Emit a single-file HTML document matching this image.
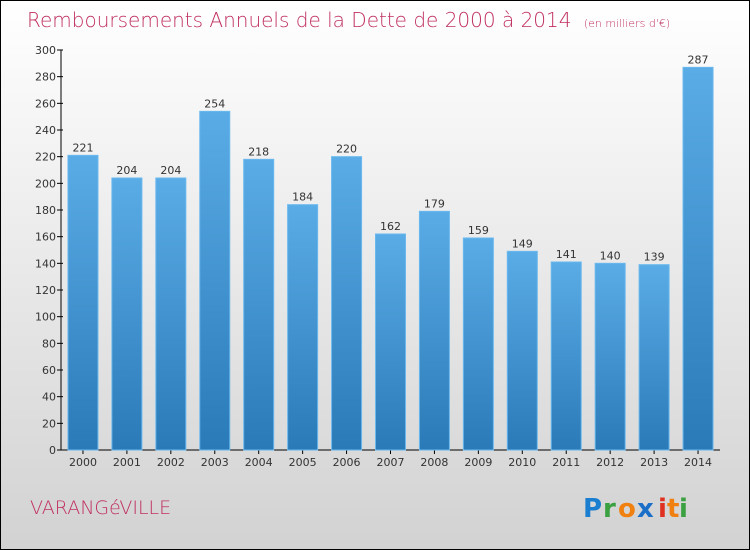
<!DOCTYPE html>
<html><head><meta charset="utf-8">
<style>
html,body{margin:0;padding:0}
body{width:750px;height:550px;overflow:hidden;font-family:"DejaVu Sans","Liberation Sans",sans-serif}
#frame{position:absolute;left:0;top:0;width:748px;height:548px;border:1px solid #000;background:linear-gradient(#ffffff,#d2d2d2)}
</style></head>
<body>
<div id="frame">
<svg width="750" height="550" style="position:absolute;left:-1px;top:-1px">
<defs>
<linearGradient id="bg" x1="0" y1="0" x2="0" y2="1">
<stop offset="0" stop-color="#5aace6"/><stop offset="1" stop-color="#2a7ab8"/>
</linearGradient>
</defs>
<text x="27" y="27" font-size="20" fill="#c0305e" font-family="DejaVu Sans,sans-serif" font-weight="200">Remboursements Annuels de la Dette de 2000 à 2014 <tspan font-size="11" dx="6">(en milliers d'€)</tspan></text>
<g id="axes"></g>
<g id="bars"></g>
<text x="30" y="514" font-size="19" fill="#c0305e" font-family="DejaVu Sans,sans-serif" font-weight="200">VARANGéVILLE</text>
<g font-family="DejaVu Sans,sans-serif" font-size="26" font-weight="bold">
<text x="583" y="517" fill="#1a7fd0">P</text>
<text x="603" y="517" fill="#3aa040">r</text>
<text x="618" y="517" fill="#f08010">o</text>
<text x="637" y="517" fill="#1a6fc8">x</text>
<text x="658" y="517" fill="#e03020">i</text>
<text x="667" y="517" fill="#f08010">t</text>
<text x="679" y="517" fill="#3aa040">i</text>
</g>
</svg>
</div>
<script>
const years=["2000","2001","2002","2003","2004","2005","2006","2007","2008","2009","2010","2011","2012","2013","2014"];
const values=[221,204,204,254,218,184,220,162,179,159,149,141,140,139,287];
const yTicks=[0,20,40,60,80,100,120,140,160,180,200,220,240,260,280,300];
const NS="http://www.w3.org/2000/svg";
const x0=61,x1=720,y0=450,yTop=50,yMax=300;
const step=(x1-x0)/years.length;
const bw=30;
function yS(v){return y0-(v/yMax)*(y0-yTop);}
function xC(i){return x0+step*(i+0.5);}
function mk(tag,attrs,parent){const e=document.createElementNS(NS,tag);for(const k in attrs)e.setAttribute(k,attrs[k]);parent.appendChild(e);return e;}
const ax=document.getElementById('axes'),bars=document.getElementById('bars');
let a=mk('line',{x1:x0,y1:yTop,x2:x0,y2:y0,stroke:'#000'},ax);


a=mk('line',{x1:x0,y1:y0,x2:x1,y2:y0,stroke:'#000'},ax);


yTicks.forEach(t=>{
  const y=yS(t);
  mk('line',{x1:x0-4,y1:y,x2:x0+2,y2:y,stroke:'#000'},ax);
  const tx=mk('text',{x:x0-5,y:y+4,'text-anchor':'end','font-size':11,fill:'#333'},ax);
  tx.textContent=t;
  
  
});
years.forEach((yr,i)=>{
  const cx=xC(i),v=values[i];
  const r=mk('rect',{x:cx-bw/2,y:yS(v),width:bw,height:y0-yS(v),fill:'url(#bg)',stroke:'#6ab8ee','stroke-width':1},bars);
  
  
  const l=mk('text',{x:cx,y:yS(v)-4,'text-anchor':'middle','font-size':11,fill:'#333'},bars);
  l.textContent=v;
  
  
  mk('line',{x1:cx,y1:y0,x2:cx,y2:y0+4,stroke:'#000'},ax);
  const xl=mk('text',{x:cx,y:y0+16,'text-anchor':'middle','font-size':11,fill:'#333'},ax);
  xl.textContent=yr;
  
  
});
</script>
</body></html>
